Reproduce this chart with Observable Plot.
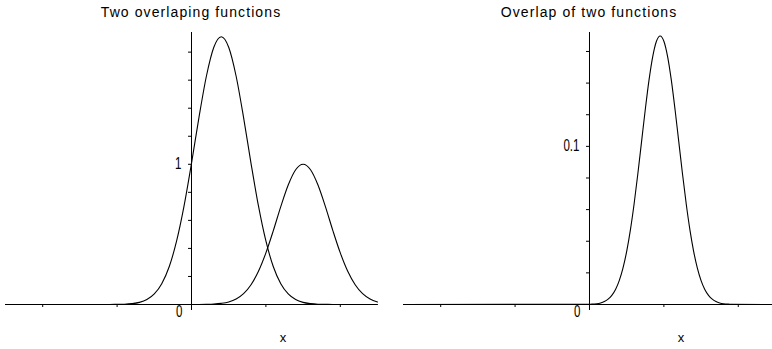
<!DOCTYPE html>
<html><head><meta charset="utf-8">
<script src="https://cdn.jsdelivr.net/npm/d3@7"></script>
<script src="https://cdn.jsdelivr.net/npm/@observablehq/plot@0.6"></script>
<style>
body{margin:0;background:#fff;}
#wrap{position:relative;width:772px;height:349px;overflow:hidden;background:#fff;}
.panel{position:absolute;top:0;width:386px;height:349px;}
.title{position:absolute;top:4px;font:14px "Liberation Sans",Arial,sans-serif;letter-spacing:1.1px;color:#000;white-space:nowrap;transform:translateX(-50%);}
</style></head><body>
<div id="wrap">
  <div class="panel" id="p1"></div>
  <div class="panel" id="p2" style="left:386px"></div>
</div>
<script>
// ---- data ----
const titles = ["Two overlaping functions", "Overlap of two functions"];
const xs = [-5,-4.8,-4.6,-4.4,-4.2,-4,-3.8,-3.6,-3.4,-3.2,-3,-2.8,-2.6,-2.4,-2.2,
  -2,-1.8,-1.6,-1.4,-1.2,-1,-0.8,-0.6,-0.4,-0.2,0,0.2,0.4,0.6,0.8,1,1.2,1.4,1.6,1.8,
  2,2.2,2.4,2.6,2.8,3,3.2,3.4,3.6,3.8,4,4.2,4.4,4.6,4.8,5];
const f1 = [0,0,0,0,0,0,0,0,0,0,0,0,0,0,0,
  0.001,0.002,0.006,0.015,0.035,0.075,0.148,0.269,0.453,0.703,1.007,1.333,1.628,1.835,1.910,
  1.835,1.628,1.333,1.007,0.703,0.453,0.269,0.148,0.075,0.035,0.015,0.006,0.002,0.001,
  0,0,0,0,0,0,0];
const f2 = [0,0,0,0,0,0,0,0,0,0,0,0,0,0,0,0,0,0,0,0,0,0,0,0,0,0,0,
  0.001,0.003,0.008,0.018,0.039,0.077,0.141,0.237,0.368,0.527,0.698,0.852,0.961,1.000,
  0.961,0.852,0.698,0.527,0.368,0.237,0.141,0.077,0.039,0.018];
const px = [-5,0,0.1,0.2,0.3,0.4,0.5,0.6,0.7,0.8,0.9,1,1.1,1.2,1.3,1.4,1.5,1.6,1.7,1.8,1.9,
  2,2.1,2.2,2.3,2.4,2.5,2.6,2.7,2.8,2.9,3,3.1,3.2,3.3,3.4,3.5,3.6,3.7,3.8,5];
const overlap = [0,0.0001,0.0003,0.0005,0.0010,0.0019,0.0034,0.0058,0.0095,0.0151,0.0230,
  0.0336,0.0472,0.0637,0.0827,0.1030,0.1233,0.1419,0.1568,0.1665,0.1698,
  0.1665,0.1568,0.1419,0.1233,0.1030,0.0827,0.0637,0.0472,0.0336,0.0230,
  0.0151,0.0095,0.0058,0.0034,0.0019,0.0010,0.0005,0.0003,0.0001,0];
const xTicks = [-4,-2,2,4];
const yTicksLeft = [0.2,0.4,0.6,0.8,1,1.2,1.4,1.6,1.8];
const yTicksRight = [0.02,0.04,0.06,0.08,0.1,0.12,0.14,0.16];
const yLabelsLeft = [1];
const yLabelsRight = [0.1];
const yTopLeft = 1.94, yTopRight = 0.172;

const numFont = '"Liberation Sans",Arial,sans-serif';
const fmtNum = d => String(d);

function panel({series, yTop, yTicks, yLabels, marginLeft, marginRight, xMax, tickLen}) {
  return Plot.plot({
    width: 386, height: 349,
    marginTop: 32, marginBottom: 45, marginLeft, marginRight,
    x: {domain: [-5, xMax]},
    y: {domain: [0, yTop], axis: null},
    style: {background: "transparent", overflow: "visible", fontFamily: '"Liberation Sans",Arial,sans-serif', color: "#000"},
    marks: [
      Plot.ruleY([0], {stroke: "#000"}),
      Plot.ruleX([0], {stroke: "#000"}),
      Plot.axisX(xTicks, {tickSize: 3, tickFormat: () => "", label: null, stroke: "#000"}),
      Plot.axisX([0], {tickSize: 6, tickFormat: () => "", label: null, stroke: "#000"}),
      Plot.ruleY(yTicks, {x1: 0, x2: -tickLen, stroke: "#000"}),
      Plot.text(yLabels, {x: 0, y: d => d, text: fmtNum, textAnchor: "end", dx: -10, fontSize: 16, fontFamily: numFont, fill: "#000"}),
      Plot.text([0], {x: 0, y: 0, text: d => String(d), textAnchor: "end", dx: -9, dy: 7, fontSize: 16, fontFamily: numFont, fill: "#000"}),
      Plot.text(["x"], {x: 2.46, frameAnchor: "bottom", dy: 37, fontSize: 13, fill: "#000"}),
      ...series.map(s => Plot.lineY(s.y, {x: s.x, curve: "monotone-x", stroke: "#000", strokeWidth: 1.1}))
    ]
  });
}

const left = panel({
  series: [{x: xs, y: f1}, {x: xs, y: f2}],
  yTop: yTopLeft, yTicks: yTicksLeft, yLabels: yLabelsLeft,
  marginLeft: 5, marginRight: 9, xMax: 5, tickLen: 0.08
});
const right = panel({
  series: [{x: px, y: overlap}],
  yTop: yTopRight, yTicks: yTicksRight, yLabels: yLabelsRight,
  marginLeft: 17, marginRight: 0, xMax: 4.92, tickLen: 0.08
});
const labelTexts = new Set(["0", ...yLabelsLeft.map(String), ...yLabelsRight.map(String)]);
[[left, "p1", 0], [right, "p2", 1]].forEach(([chart, id, i]) => {
  const el = document.getElementById(id);
  el.appendChild(chart);
  // narrow the tick-label digits like the reference's tall, thin numerals
  Array.from(chart.querySelectorAll("text"))
    .filter(t => labelTexts.has(t.textContent.trim()))
    .forEach(t => {
      const tr = t.getAttribute("transform") || "";
      t.setAttribute("transform", `${tr} scale(0.72,1)`);
    });
  const r = chart.scale("x").range;
  const t = document.createElement("div");
  t.className = "title";
  t.textContent = titles[i];
  t.style.left = ((r[0] + (i === 1 ? r[0] + 372 : r[1])) / 2) + "px";
  el.appendChild(t);
});
</script>
</body></html>
